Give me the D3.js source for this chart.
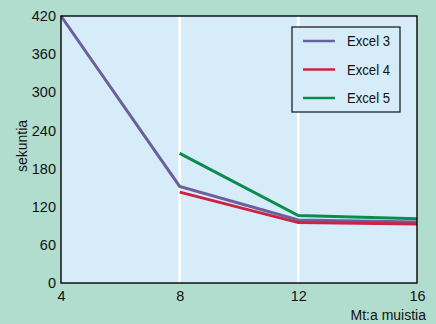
<!DOCTYPE html>
<html><head><meta charset="utf-8">
<script src="https://cdn.jsdelivr.net/npm/d3@7"></script>
<style>
html,body{margin:0;padding:0;background:#b1ddce;}
svg{display:block;}
text{font-family:"Liberation Sans",Arial,sans-serif;fill:#111;}
</style></head>
<body>
<script>
const memory = [4, 8, 12, 16];
const yTicks = [0, 60, 120, 180, 240, 300, 360, 420];
const excel3 = [420, 152, 99, 96];
const excel4 = [null, 143, 95, 93];
const excel5 = [null, 204, 106, 101];
const seriesNames = ["Excel 3", "Excel 4", "Excel 5"];
const seriesColors = ["#6b5f9e", "#cc2244", "#0c8c4c"];
const xTitle = "Mt:a muistia";
const yTitle = "sekuntia";

const W = 436, H = 324;
const m = {l: 61, r: 19, t: 16, b: 41};
const svg = d3.select("body").append("svg").attr("width", W).attr("height", H);
const x = d3.scaleLinear().domain([4, 16]).range([m.l, W - m.r]);
const y = d3.scaleLinear().domain([0, 420]).range([H - m.b, m.t]);

svg.append("rect").attr("x", m.l).attr("y", m.t)
  .attr("width", W - m.r - m.l).attr("height", H - m.b - m.t).attr("fill", "#d6edf9");

// vertical white gridlines
svg.append("g").selectAll("line").data(memory.slice(1, -1)).join("line")
  .attr("x1", d => x(d)).attr("x2", d => x(d))
  .attr("y1", m.t).attr("y2", H - m.b)
  .attr("stroke", "#fff").attr("stroke-width", 2.5);

// axes
const yAxis = svg.append("g").attr("transform", `translate(${m.l},0)`)
  .call(d3.axisLeft(y).tickValues(yTicks).tickSize(0).tickPadding(5));
yAxis.select(".domain").remove();
yAxis.selectAll("text").attr("font-size", 14.5).style("font-family", null);

const xAxis = svg.append("g").attr("transform", `translate(0,${H - m.b})`)
  .call(d3.axisBottom(x).tickValues(memory).tickSize(0).tickPadding(8).tickFormat(d3.format("d")));
xAxis.select(".domain").remove();
xAxis.selectAll("text").attr("font-size", 14.5).style("font-family", null);

// series lines
const all = [excel3, excel4, excel5];
const line = d3.line().defined(d => d.v != null).x(d => x(d.m)).y(d => y(d.v));
all.forEach((s, i) => {
  svg.append("path")
    .datum(s.map((v, j) => ({m: memory[j], v})))
    .attr("fill", "none").attr("stroke", seriesColors[i]).attr("stroke-width", 3)
    .attr("stroke-linejoin", "miter").attr("d", line);
});

// plot border
svg.append("rect").attr("x", m.l).attr("y", m.t)
  .attr("width", W - m.r - m.l).attr("height", H - m.b - m.t)
  .attr("fill", "none").attr("stroke", "#111").attr("stroke-width", 1.5);

// legend
const lg = svg.append("g").attr("transform", "translate(292,27)");
lg.append("rect").attr("width", 108).attr("height", 85)
  .attr("fill", "#d6edf9").attr("stroke", "#111").attr("stroke-width", 1.2);
seriesNames.forEach((n, i) => {
  const yy = 14 + i * 28.5;
  lg.append("line").attr("x1", 11).attr("x2", 43).attr("y1", yy).attr("y2", yy)
    .attr("stroke", seriesColors[i]).attr("stroke-width", 2.5);
  lg.append("text").attr("x", 55).attr("y", yy + 5).attr("font-size", 14)
    .attr("textLength", 43).attr("lengthAdjust", "spacingAndGlyphs").text(n);
});

// titles
svg.append("text").attr("x", 426).attr("y", 320).attr("text-anchor", "end")
  .attr("font-size", 14).text(xTitle);
svg.append("text").attr("transform", `translate(27,146) rotate(-90)`)
  .attr("text-anchor", "middle").attr("font-size", 14).text(yTitle);
</script>
</body></html>
